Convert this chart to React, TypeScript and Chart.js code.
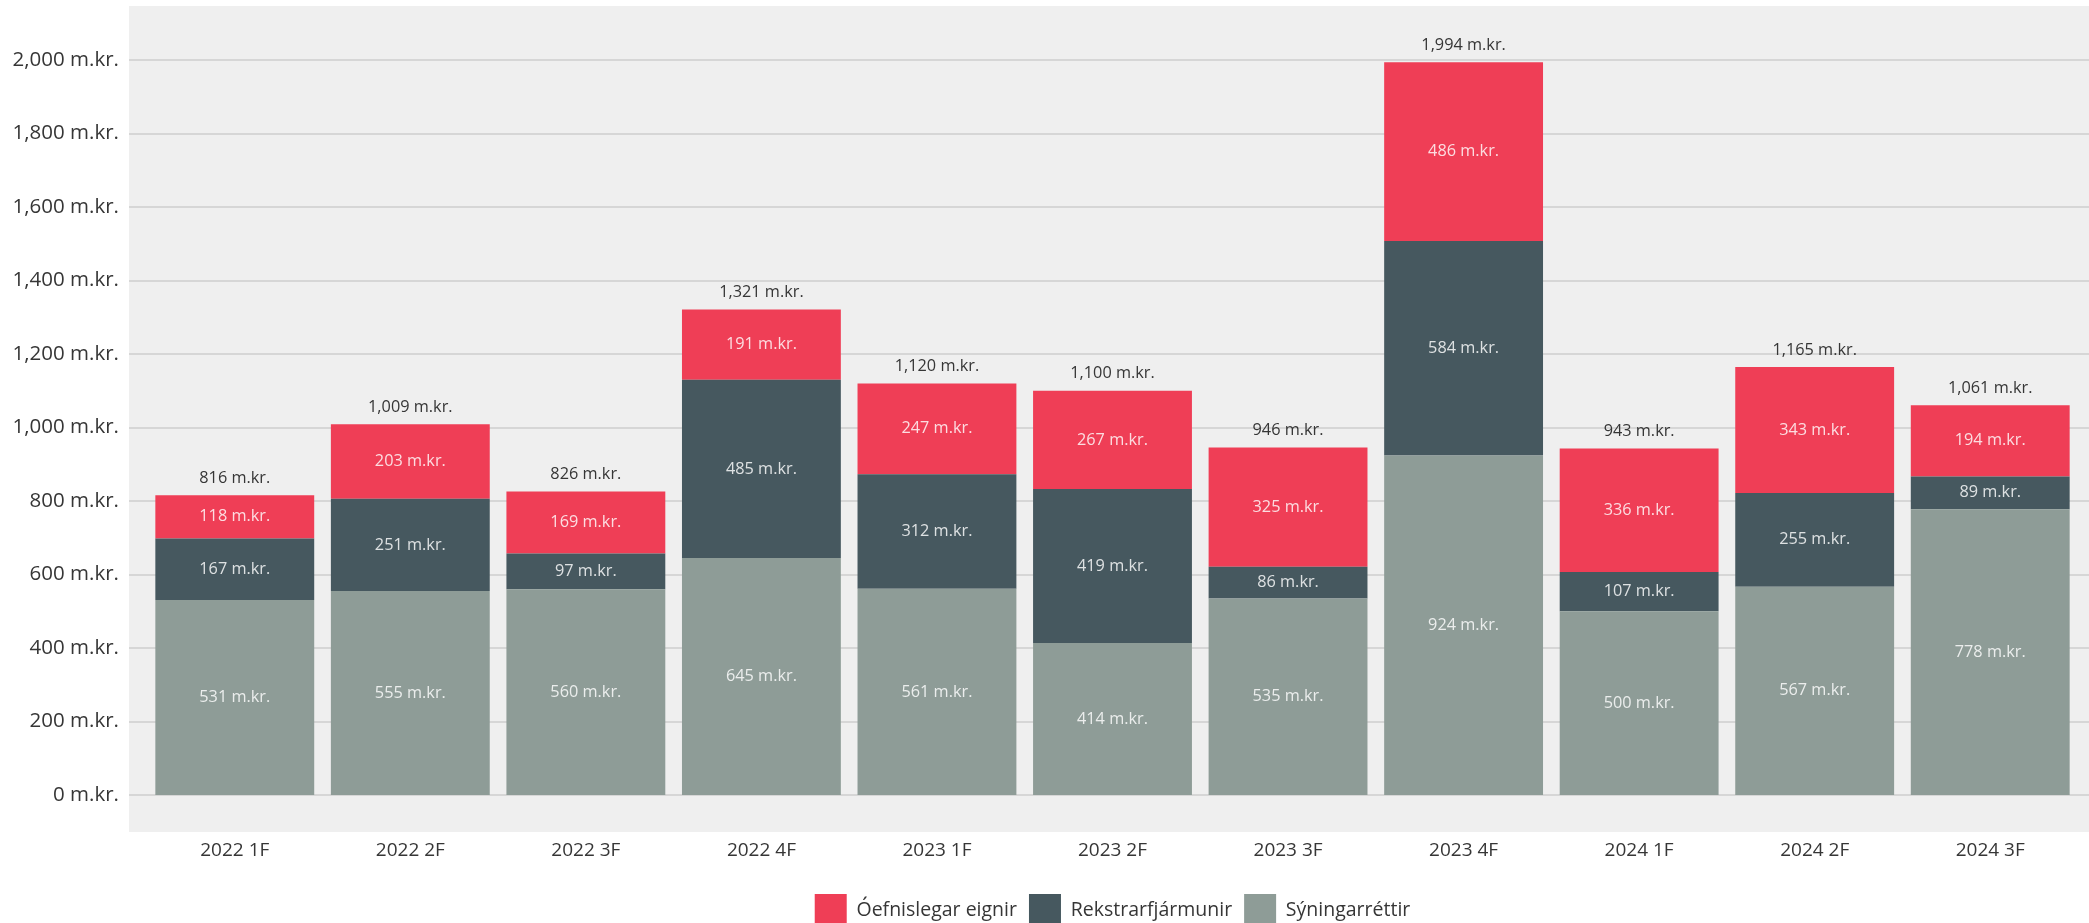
import React, { useEffect, useRef } from 'react';
import { Chart, registerables } from 'chart.js';

Chart.register(...registerables);

const categories = ['2022 1F', '2022 2F', '2022 3F', '2022 4F', '2023 1F', '2023 2F', '2023 3F', '2023 4F', '2024 1F', '2024 2F', '2024 3F'];
const syningarrettir = [531, 555, 560, 645, 561, 414, 535, 924, 500, 567, 778];
const rekstrarfjarmunir = [167, 251, 97, 485, 312, 419, 86, 584, 107, 255, 89];
const oefnislegarEignir = [118, 203, 169, 191, 247, 267, 325, 486, 336, 343, 194];
const seriesNames = ['Sýningarréttir', 'Rekstrarfjármunir', 'Óefnislegar eignir'];
const seriesColors = ['#8e9c97', '#46585f', '#ef3e56'];
const yMin = 0;
const yMax = 2150;
const yStep = 200;
const unit = ' m.kr.';

const fmt = (v: number) => v.toLocaleString('en-US') + unit;

const FONT = "'Open Sans', sans-serif";
const TEXT = '#363636';

const bgPlugin = {
  id: 'bgGrid',
  beforeDraw(chart: any) {
    const { ctx, chartArea, scales } = chart;
    const left = chartArea.left - 18;
    const right = chart.width;
    const top = chartArea.top + 1;
    const bottom = chartArea.bottom + 37;
    ctx.save();
    ctx.fillStyle = '#efefef';
    ctx.fillRect(left, top, right - left, bottom - top);
    ctx.strokeStyle = '#d6d6d6';
    ctx.lineWidth = 2;
    scales.y.ticks.forEach((t: any) => {
      const y = Math.round(scales.y.getPixelForValue(t.value));
      ctx.beginPath();
      ctx.moveTo(left, y);
      ctx.lineTo(right, y);
      ctx.stroke();
    });
    ctx.restore();
  },
};

const labelPlugin = {
  id: 'barLabels',
  afterDatasetsDraw(chart: any) {
    const { ctx } = chart;
    ctx.save();
    ctx.textAlign = 'center';
    ctx.textBaseline = 'middle';
    ctx.font = `16.3px ${FONT}`;
    const n = chart.data.labels.length;
    chart.data.datasets.forEach((ds: any, di: number) => {
      const meta = chart.getDatasetMeta(di);
      meta.data.forEach((bar: any, i: number) => {
        const y = (bar.y + bar.base) / 2;
        ctx.fillStyle = 'rgba(255,255,255,0.82)';
        ctx.fillText(fmt(ds.data[i]), bar.x, y);
      });
    });
    const lastMeta = chart.getDatasetMeta(chart.data.datasets.length - 1);
    for (let i = 0; i < n; i++) {
      const total = chart.data.datasets.reduce((s: number, ds: any) => s + ds.data[i], 0);
      const bar = lastMeta.data[i];
      ctx.fillStyle = TEXT;
      ctx.fillText(fmt(total), bar.x, bar.y - 17);
    }
    ctx.restore();
  },
};

export default function App() {
  const ref = useRef<HTMLCanvasElement>(null);
  useEffect(() => {
    document.body.style.margin = '0';
    document.body.style.overflow = 'hidden';
    Chart.defaults.font.family = FONT;
    const chart = new Chart(ref.current as HTMLCanvasElement, {
      type: 'bar',
      data: {
        labels: categories,
        datasets: [syningarrettir, rekstrarfjarmunir, oefnislegarEignir].map((d, i) => ({
          label: seriesNames[i],
          data: d,
          backgroundColor: seriesColors[i],
          borderWidth: 0,
          categoryPercentage: 1,
          barPercentage: 0.905,
        })),
      },
      options: {
        animation: false,
        responsive: true,
        maintainAspectRatio: false,
        layout: { padding: { top: 5, right: 11, bottom: 0, left: 0 } },
        plugins: {
          tooltip: { enabled: false },
          legend: {
            position: 'bottom',
            fullSize: false,
            reverse: true,
            labels: {
              boxWidth: 32,
              boxHeight: 32,
              padding: 12,
              color: TEXT,
              font: { size: 19.5, family: FONT },
            },
          },
        },
        scales: {
          x: {
            stacked: true,
            grid: { display: false, drawTicks: false },
            border: { display: false },
            ticks: { color: TEXT, font: { size: 19, family: FONT }, padding: 44 },
            afterFit: (axis: any) => { axis.height = 87; axis.paddingLeft = 0; axis.paddingRight = 0; },
          },
          y: {
            stacked: true,
            min: yMin,
            max: yMax,
            grid: { display: false, drawTicks: false },
            border: { display: false },
            ticks: {
              stepSize: yStep,
              includeBounds: false,
              color: TEXT,
              font: { size: 20.5, family: FONT },
              padding: 28,
              callback: (v: any) => fmt(Number(v)),
            },
            afterFit: (axis: any) => { axis.width = 147; axis.paddingTop = 0; axis.paddingBottom = 0; },
          },
        },
      },
      plugins: [bgPlugin, labelPlugin],
    } as any);
    return () => chart.destroy();
  }, []);
  return (
    <div style={{ position: 'fixed', left: 0, top: 0, width: 2089, height: 936 }}>
      <canvas ref={ref} />
    </div>
  );
}
